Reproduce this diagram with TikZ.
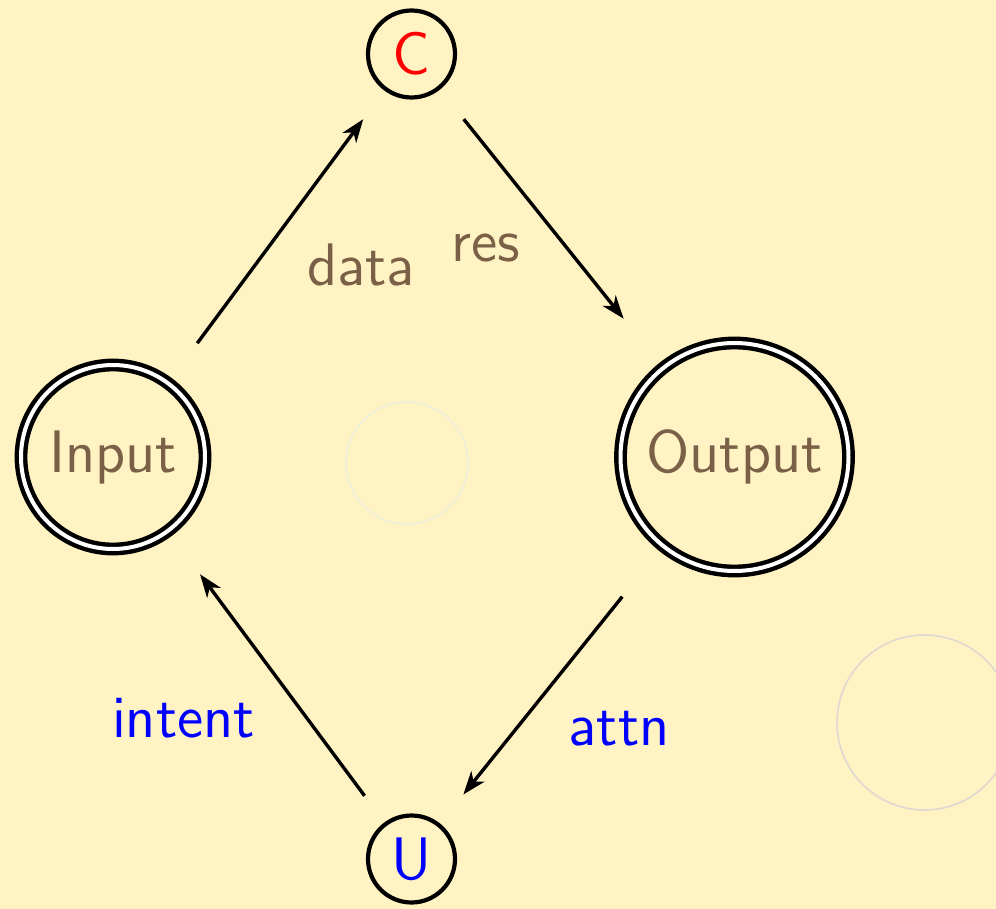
\documentclass[tikz,border=0pt]{standalone}
\usepackage{fontspec}
\usetikzlibrary{arrows.meta}

\definecolor{paper}{RGB}{255,242,195}
\definecolor{ink}{RGB}{121,96,70}
\definecolor{ghost}{RGB}{240,240,216}
\definecolor{mist}{RGB}{222,216,208}

\tikzset{
  lbl/.style={font=\sffamily\fontsize{15}{18}\selectfont, inner sep=0pt, anchor=base},
  statenode/.style={circle, draw=black, line width=1.05pt, inner sep=0pt, outer sep=0pt,
    font=\sffamily\fontsize{15}{18}\selectfont},
  finalnode/.style={statenode, line width=1.1pt, double=white, double distance=1pt},
  flow/.style={draw=black, line width=0.85pt,
    -{Stealth[length=5.8pt, width=4.2pt, inset=1.7pt]}},
}

\begin{document}
\begin{tikzpicture}[x=0.25pt, y=-0.25pt]
  % canvas
  \fill[paper] (0,0) rectangle (996,909);
  \useasboundingbox (0,0) rectangle (996,909);

  % faint decorative rings
  \draw[ghost, line width=0.45pt] (407,463) circle[radius=61];
  \draw[mist, line width=0.4pt] (924.5,722.5) circle[radius=87.5];

  % states
  \node[statenode, minimum size=21.75pt, text=red]  (C) at (411.5,54)  {C};
  \node[statenode, minimum size=21.75pt, text=blue] (U) at (411.5,859) {U};
  \node[finalnode, minimum size=46pt, text=ink]     (I) at (113,457)   {Input};
  \node[finalnode, minimum size=57pt, text=ink]     (O) at (734.5,457) {Output};

  % transitions
  \draw[flow, shorten <=12.4pt, shorten >=9.4pt]  (I) -- (C);
  \draw[flow, shorten <=10pt,   shorten >=15.8pt] (C) -- (O);
  \draw[flow, shorten <=16.3pt, shorten >=9.8pt]  (O) -- (U);
  \draw[flow, shorten <=8.8pt,  shorten >=13.5pt] (U) -- (I);

  % transition labels
  \node[lbl, text=ink]  (ldata)   at (361,285)   {data};
  \node[lbl, text=ink]  (lres)    at (485.5,262) {res};
  \node[lbl, text=blue] (lintent) at (183.5,737) {intent};
  \node[lbl, text=blue] (lattn)   at (619,745)   {attn};
\end{tikzpicture}
\end{document}
